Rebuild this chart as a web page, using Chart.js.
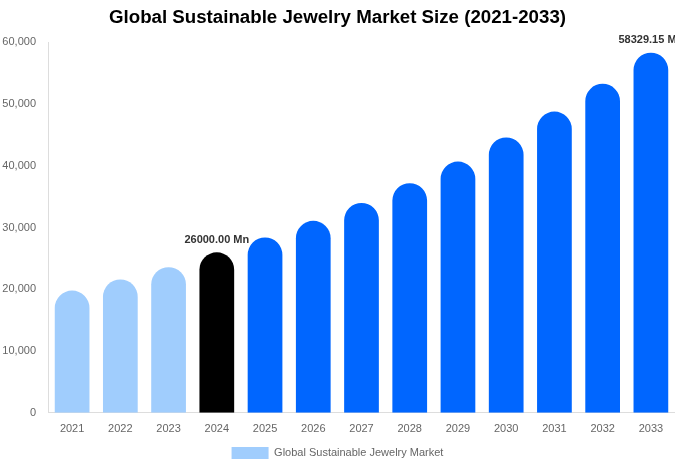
<!DOCTYPE html>
<html>
<head>
<meta charset="utf-8">
<script src="https://cdn.jsdelivr.net/npm/chart.js@4"></script>
<style>
  html, body { margin: 0; padding: 0; background: #fff; }
  #wrap { width: 675px; height: 469px; }
</style>
</head>
<body>
<div id="wrap"><canvas id="myChart"></canvas></div>
<script>
const years = ['2021', '2022', '2023', '2024', '2025', '2026', '2027', '2028', '2029', '2030', '2031', '2032', '2033'];
const marketSize = [19800, 21600, 23600, 26000, 28400, 31100, 34000, 37200, 40700, 44600, 48800, 53300, 58329.15];
const barColors = ['#a0cdfd', '#a0cdfd', '#a0cdfd', '#000000', '#0066ff', '#0066ff', '#0066ff', '#0066ff', '#0066ff', '#0066ff', '#0066ff', '#0066ff', '#0066ff'];
const valueLabels = { 3: '26000.00 Mn', 12: '58329.15 Mn' };
const yTicks = [0, 10000, 20000, 30000, 40000, 50000, 60000];

Chart.defaults.font.family = "'Liberation Sans', Arial, sans-serif";

// writes the two highlighted values above their bars
const valueLabelPlugin = {
    id: 'valueLabels',
    afterDatasetsDraw(chart) {
        const ctx = chart.ctx;
        const meta = chart.getDatasetMeta(0);
        ctx.save();
        ctx.font = "bold 11px 'Liberation Sans', Arial, sans-serif";
        ctx.fillStyle = '#333';
        ctx.textAlign = 'center';
        ctx.textBaseline = 'bottom';
        Object.keys(valueLabels).forEach(i => {
            const bar = meta.data[i];
            ctx.fillText(valueLabels[i], bar.x, bar.y - 7);
        });
        ctx.restore();
    }
};

new Chart(document.getElementById('myChart'), {
    type: 'bar',
    data: {
        labels: years,
        datasets: [{
            label: 'Global Sustainable Jewelry Market',
            data: marketSize,
            backgroundColor: barColors,
            borderRadius: { topLeft: 20, topRight: 20 },
            borderSkipped: 'bottom',
            barPercentage: 0.9,
            categoryPercentage: 0.8
        }]
    },
    options: {
        responsive: true,
        maintainAspectRatio: false,
        animation: false,
        layout: { padding: { left: 0, right: 0, top: 0, bottom: 0 } },
        plugins: {
            title: {
                display: true,
                text: 'Global Sustainable Jewelry Market Size (2021-2033)',
                color: '#000',
                font: { size: 18.7, weight: 'bold' },
                padding: { top: 7, bottom: 13 }
            },
            legend: {
                position: 'bottom',
                labels: {
                    boxWidth: 37,
                    boxHeight: 12,
                    padding: 9,
                    color: '#666',
                    font: { size: 11 },
                    generateLabels: () => [{
                        text: 'Global Sustainable Jewelry Market',
                        fillStyle: '#a0cdfd',
                        strokeStyle: '#a0cdfd',
                        lineWidth: 0,
                        fontColor: '#666'
                    }]
                }
            },
            tooltip: { enabled: false }
        },
        scales: {
            x: {
                grid: { display: false },
                border: { display: true, color: '#ddd' },
                ticks: { color: '#666', font: { size: 11 }, padding: 2 }
            },
            y: {
                min: 0,
                max: 60000,
                afterBuildTicks: axis => { axis.ticks = yTicks.map(v => ({ value: v })); },
                afterFit: axis => { axis.width = 48; },
                grid: { display: false },
                border: { display: true, color: '#ddd' },
                ticks: {
                    color: '#666',
                    font: { size: 11 },
                    padding: 4,
                    callback: v => v.toLocaleString('en-US')
                }
            }
        }
    },
    plugins: [valueLabelPlugin]
});
</script>
</body>
</html>
